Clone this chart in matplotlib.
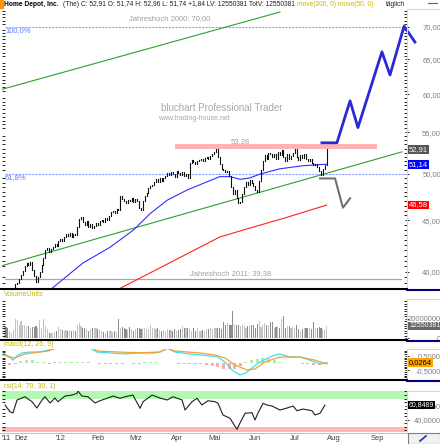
import matplotlib.pyplot as plt
from matplotlib.lines import Line2D
from matplotlib.patches import Rectangle
from matplotlib.ticker import FixedLocator, NullFormatter
import matplotlib.transforms as mtransforms

plt.rcParams['font.family'] = ['Liberation Sans', 'DejaVu Sans']

# Handelstage, Tag 0 = 1. Dez 2011
first_day = -9
closes = [37.6, 37.2, 36.6, 36.9, 37.4, 38.1,
          38.9, 39.0, 39.3, 39.7, 40.1, 40.5, 40.8, 40.6, 40.9, 40.2, 39.6, 39.1,
          39.5, 40.0, 40.6, 41.3, 42.0, 42.2, 41.8, 42.1, 42.3, 42.6, 42.4, 42.9,
          43.1, 42.9, 43.3, 43.6, 43.4, 43.7, 43.3, 43.6, 43.5, 44.3, 45.1, 45.3,
          44.8, 44.5, 44.9, 44.3, 44.6, 44.2, 44.4, 44.7, 44.5, 44.9, 45.0, 44.8,
          45.2, 45.0, 45.4, 45.8, 46.0, 45.7, 46.2, 46.1, 47.6, 47.2, 47.0, 46.8,
          47.1, 47.0, 47.3, 46.9, 47.2, 47.0, 46.3, 46.1, 47.0, 47.6, 47.9, 48.4,
          48.6, 48.8, 49.1, 49.4, 49.1, 49.5, 49.2, 49.6, 49.8, 50.1, 49.9, 50.2,
          50.0, 49.7, 50.3, 50.1, 49.9, 50.2, 49.8, 50.0, 49.5, 51.3, 51.6, 51.4,
          51.2, 51.5, 51.6, 51.8, 51.5, 51.9, 52.0, 51.8, 52.1, 52.3, 52.6, 52.9,
          52.0, 51.2, 50.6, 50.5, 50.2, 50.4, 49.8, 48.5, 47.8, 48.2, 47.3, 46.8,
          46.9, 47.8, 48.5, 49.1, 48.8, 49.3, 49.0, 48.7, 48.2, 48.0, 49.2, 50.5,
          51.5, 52.2, 51.8, 52.5, 52.3, 52.0, 52.4, 51.7, 52.6, 52.2, 52.8, 52.0,
          51.5, 52.3, 51.8, 52.1, 52.5, 52.9, 52.0, 51.6, 52.2, 51.9, 52.4, 51.8,
          51.5, 51.7, 51.3, 51.0, 51.2, 50.8, 50.4, 49.9, 50.6, 51.1, 52.91]
volumes = [11.7, 11.0, 10.7, 7.3, 5.7, 8.0, 20.0, 19.0, 14.0,
           17.3, 14.0, 13.5, 13.0, 12.3, 10.7, 11.7, 11.0, 12.3, 10.7,
           19.0, 10.7, 20.0, 12.3, 9.0, 5.7, 5.0, 5.7, 6.5, 7.3,
           11.7, 9.0, 8.0, 7.3, 8.0, 7.5, 8.0, 7.3, 8.0, 7.5,
           14.0, 15.3, 12.3, 10.7, 10.7, 9.0, 7.3, 9.0, 10.0, 10.0,
           10.0, 9.0, 8.0, 7.3, 6.5, 5.7, 7.3, 7.0, 7.3, 6.5,
           7.3, 6.0, 20.0, 10.7, 11.0, 10.0, 9.0, 8.0, 11.3, 9.0,
           7.3, 9.0, 10.0, 10.7, 9.0, 10.0, 10.0, 9.0, 9.0, 13.3,
           10.0, 10.0, 9.0, 10.7, 8.0, 7.3, 8.0, 7.3, 9.0, 8.0,
           8.0, 7.3, 9.0, 7.3, 8.0, 9.0, 12.3, 10.0, 10.7, 10.0,
           9.5, 7.3, 10.7, 7.3, 10.7, 7.3, 7.3, 8.0, 7.3, 9.0,
           9.0, 10.0, 9.0, 10.0, 10.7, 10.0, 10.7, 9.0, 16.7, 14.0,
           15.7, 13.3, 14.0, 28.0, 15.0, 14.0, 14.0, 12.0, 14.0, 12.3,
           10.7, 12.0, 12.3, 13.3, 14.0, 10.0, 14.7, 18.0, 11.0, 13.3,
           15.7, 13.3, 14.0, 16.7, 16.7, 10.7, 11.0, 12.0, 10.7, 20.0,
           22.7, 10.7, 12.3, 12.0, 10.7, 11.0, 10.0, 13.3, 9.5, 7.3,
           9.0, 10.0, 10.7, 10.0, 10.0, 9.0, 16.3, 10.7, 10.7, 11.0,
           10.0, 9.0, 8.0, 12.55]

ma50_days = [14, 16.5, 33, 47.5, 60, 69, 78, 88.5, 99, 106, 111.5, 117, 122, 127.5, 138, 150, 163]
ma50 = [38.1, 38.5, 40.8, 42.3, 44.0, 45.7, 47.1, 48.2, 49.1, 49.7, 49.7, 49.4, 49.55, 50.0, 50.6, 50.95, 51.14]
ma200_days = [50, 52.8, 106, 124, 142, 163]
ma200 = [38.3, 38.5, 43.3, 44.3, 45.3, 46.58]

trend_lo_days, trend_lo = [-11.2, 203.2], [40.5, 52.6]
trend_hi_days, trend_hi = [-11.2, 138.1], [60.6, 72.4]
jh2000, fib618, jh2011, resist = 70.0, 50.0, 39.38, 53.28

proj_up_days = [160.5, 168.5, 175.5, 179.7, 192.5, 196.8, 204.3, 210.1]
proj_up = [53.7, 53.7, 59.1, 55.6, 66.1, 62.7, 70.1, 67.6]
proj_dn_days = [159.5, 167.5, 171.7, 175.5]
proj_dn = [49.5, 49.5, 46.3, 47.3]

macd_days = [-9.6, -6.9, -4.3, -2.1, 0.5, 4.8, 10.1, 14.4, 20, 30, 36, 40.5, 47.5, 55.5, 63.5,
             71.5, 74, 78, 82.1, 90, 95.5, 100.8, 105, 108.8, 112.5, 116.8, 120, 123.2, 127.5,
             131.7, 135.5, 138.1, 143.5, 148.8, 154.1, 159.5, 163.2]
macd = [0.7, 0.5, 0.2, 0.5, 0.7, 0.77, 0.77, 0.9, 1.15, 1.25, 1.1, 0.77, 0.7, 0.63, 0.7,
        0.7, 0.77, 1.05, 0.77, 0.63, 0.56, 0.5, 0.42, 0.07, -0.49, -0.84, -0.7, -0.35, 0.07,
        0.35, 0.56, 0.63, 0.42, 0.42, 0.2, -0.07, 0.03]
signal_days = [-9.6, -5.9, -3.2, 2.1, 10.1, 14.4, 20, 30, 38, 40.5, 55, 65, 74.1, 78, 82.1,
               95.5, 103.5, 108.8, 114.1, 120.5, 124.8, 130.1, 138.1, 148.8, 156.8, 163.2]
signal = [0.56, 0.42, 0.35, 0.63, 0.77, 0.84, 1.1, 1.2, 1.1, 0.84, 0.75, 0.72, 0.77, 1.02, 0.84,
          0.7, 0.56, 0.35, -0.14, -0.49, -0.42, 0.07, 0.42, 0.42, 0.2, -0.07]
hist_days = list(range(-9, 163, 3))
hist = [-0.1, -0.12, -0.08, 0.15, 0.2, 0.18, 0.1, 0.05, -0.05, 0.05, 0.06, 0.07, 0.05, 0.04,
        0.06, 0.08, 0.02, -0.04, -0.06, -0.05, -0.04, -0.06, -0.03, -0.05, -0.04, 0.06, 0.08,
        0.05, 0.02, -0.02, -0.03, -0.06, -0.07, -0.05, -0.08, -0.1, -0.12, -0.2, -0.3, -0.4,
        -0.45, -0.4, -0.2, 0.1, 0.2, 0.3, 0.35, 0.28, 0.2, 0.1, 0.03, 0.02, -0.02, -0.06,
        -0.1, -0.15, -0.14, -0.1]

rsi_days = [-8.5, -5.9, -4.3, -2.1, 2.1, 5.9, 8.5, 11.2, 12.8, 15.5, 18.1, 19.7, 23.5, 27.2,
            29.9, 30.4, 32.5, 35.7, 39.5, 42.1, 45.9, 49.1, 52.8, 55.5, 59.7, 63.5, 65.1, 69.9,
            74.1, 77.9, 81.1, 85.9, 87.5, 91.2, 93.9, 96.5, 99.7, 103.5, 105.1, 107.7, 111.5,
            113.1, 115.2, 116.8, 119.5, 123.2, 124.8, 126.4, 129.1, 131.2, 133.9, 138.1, 141.9,
            145.1, 147.2, 150.4, 155.2, 156.8, 159.5, 162.1]
rsi = [60.8, 51.4, 49.6, 67.9, 72.5, 65.5, 56.6, 67.9, 72.5, 63.7, 70.7, 65.5, 73.5, 74.9,
       77.3, 80.6, 73.5, 72.5, 63.7, 66.9, 70.3, 73.5, 70.3, 72.5, 74.9, 56.2, 65.5, 74.9,
       70.7, 67.9, 72.5, 67.9, 53.8, 65.5, 70.3, 60.8, 66.9, 65.5, 63.2, 46.8, 42.1, 35.1,
       26.6, 35.5, 49.2, 50.0, 39.7, 49.6, 63.2, 60.8, 59.4, 53.8, 56.6, 59.4, 52.8, 55.2,
       52.8, 46.8, 49.2, 60.85]

month_days = [-9, 0, 21, 41, 61, 83, 103, 125, 146, 167, 190]
month_labels = ["'11", 'Dez', "'12", 'Feb', 'Mrz', 'Apr', 'Mai', 'Jun', 'Jul', 'Aug', 'Sep']
price_ticks = [40, 45, 50, 55, 60, 65, 70]

W, H = 440, 444
fig = plt.figure(figsize=(W / 100, H / 100), dpi=100)
OLIVE = '#c8b800'
YEL = '#f2d98c'


def ftext(x, y, s, **kw):
    kw.setdefault('fontsize', 5.5)
    kw.setdefault('va', 'center')
    fig.text(x / W, 1 - y / H, s, **kw)


def fline(x0, x1, y0, y1, **kw):
    fig.add_artist(Line2D([x0 / W, x1 / W], [1 - y0 / H, 1 - y1 / H], transform=fig.transFigure, **kw))


def panel(y0, y1, ylim, minor, major, labels, log=False):
    ax = fig.add_axes([2 / W, 1 - y1 / H, 405 / W, (y1 - y0) / H])
    if log:
        ax.set_yscale('log')
    ax.set_xlim(-10.13, 205.87)
    ax.set_ylim(*ylim)
    for s in ['top', 'left', 'bottom']:
        ax.spines[s].set_visible(False)
    ax.spines['right'].set_color(YEL)
    ax.set_xticks([])
    ax.set_xticks([], minor=True)
    ax.yaxis.set_major_locator(FixedLocator(major))
    ax.set_yticklabels(labels)
    ax.yaxis.set_minor_locator(FixedLocator(minor))
    ax.yaxis.set_minor_formatter(NullFormatter())
    ax.tick_params(axis='y', which='major', left=False, right=True, labelleft=False, labelright=True,
                   direction='inout', length=3, width=0.6, labelsize=5.5, labelcolor='#808080', pad=23)
    ax.tick_params(axis='y', which='minor', left=True, right=True, direction='in', length=2.5, width=0.6)
    for t in ax.get_yticklabels():
        t.set_ha('right')
    return ax


def value_box(ax, y, s, fc, tc='white', size=5.5):
    tr = mtransforms.blended_transform_factory(ax.transAxes, ax.transData)
    ax.text(1.005, y, s, transform=tr, fontsize=size, color=tc, va='center', ha='left', zorder=5,
            bbox=dict(boxstyle='square,pad=0.12', fc=fc, ec='none'), clip_on=False)


days = list(range(first_day, first_day + len(closes)))
opens = [closes[0]] + closes[:-1]

# Kurschart
ax = panel(9, 289, (38.45, 72.9), [p / 2 for p in range(77, 146)], price_ticks,
           ['%d,00' % p for p in price_ticks], log=True)
ax.axhspan(52.95, 53.6, xmin=(82.1 + 10.13) / 216, xmax=(189.9 + 10.13) / 216, color='#ffb4b4', lw=0)
ax.axhline(jh2000, xmin=0.008, color='#8ca0ff', lw=0.8, ls=(0, (2, 1)))
ax.axhline(fib618, xmin=0.008, color='#8ca0ff', lw=0.8, ls=(0, (2, 1)))
ax.axhline(jh2011, xmin=0.008, xmax=0.985, color='#a8a8a8', lw=0.9)
ax.plot(trend_hi_days, trend_hi, color='#2ca02c', lw=0.8)
ax.plot(trend_lo_days, trend_lo, color='#2ca02c', lw=0.8)
ax.plot(ma200_days, ma200, color='#ff2020', lw=0.8)
ax.plot(ma50_days, ma50, color='#3030ff', lw=0.8)
lc = ax.vlines(days, [min(o, c) for o, c in zip(opens, closes)],
               [max(o, c) for o, c in zip(opens, closes)], color='#111111', lw=0.8)
lc.set_capstyle('projecting')
ax.plot(proj_dn_days, proj_dn, color='#707070', lw=1.5)
ax.plot(proj_up_days, proj_up, color='#2a2ad2', lw=2, clip_on=False)
value_box(ax, 52.91, '52,91', '#555555')
value_box(ax, 51.14, '51,14', '#0000ff')
value_box(ax, 46.58, '46,58', '#ff0000')

ftext(170, 18.5, 'Jahreshoch 2000: 70,00', color='#a0a0a0', ha='center')
ftext(5, 31, '100,0%', color='#5a7dff')
ftext(5, 178, '61,8%', color='#5a7dff')
ftext(231, 274, 'Jahreshoch 2011: 39,38', color='#a0a0a0', ha='center')
ftext(240, 141.5, '53,28', color='#a0a0a0', ha='center')
ftext(222, 108, 'bluchart Professional Trader', color='#a8a8a8', ha='center', fontsize=7)
ftext(158, 118, 'www.trading-house.net', color='#a8a8a8', fontsize=5)

# Volumen
axv = panel(299, 339, (-0.7, 39.9), [v * 2.5 for v in range(0, 16)], [0, 20], ['0', '20000000'])
vcol = ['#c4c4c4' if c >= o else '#8c8c8c' for o, c in zip(opens, closes)]
axv.bar(days, volumes, width=0.55, color=vcol, lw=0)
value_box(axv, 12.55, '12550381', '#666666', size=5)

# MACD
axm = panel(349, 379, (-1.12, 0.98), [v / 8 for v in range(-8, 8)], [0.5, -0.5], ['0,5000', '-0,5000'])
axm.bar(hist_days, hist, width=1.6, color=['#a6f0a6' if h > 0 else '#ffaaaa' for h in hist], lw=0)
axm.plot(macd_days, macd, color='#3fe0f0', lw=0.9)
axm.plot(signal_days, signal, color='#f5a030', lw=0.9)
value_box(axm, 0.0264, '0,0264', '#ffa500', tc='black')

# RSI
axr = panel(391, 432, (22.8, 80.6), list(range(25, 81, 5)), [60, 40], ['60,0000', '40,0000'])
axr.axhspan(70, 100, color='#b4f8b4', lw=0)
axr.axhspan(0, 30, color='#ffb8b8', lw=0)
axr.plot(rsi_days, rsi, color='#202020', lw=0.8)
value_box(axr, 60.85, '60,8489', '#000000', size=5)

# Kopfzeilen und Trennlinien
fig.add_artist(Rectangle((0, 1 - 8 / H), 3 / W, 8 / H, transform=fig.transFigure, color='#ff9900'))
ftext(4, 4.5, 'Home Depot, Inc.', color='black', fontsize=4.8, weight='bold')
ftext(63, 4.5, '(The) C: 52,91 O: 51,74 H: 52,96 L: 51,74 +1,84 LV: 12550381 TotV: 12550381',
      color='#202020', fontsize=4.8)
ftext(297, 4.5, 'move(200, 0) move(50, 0)', color=OLIVE, fontsize=4.8)
ftext(386, 4.5, 'täglich', color='#202020', fontsize=4.8)
fline(428, 437, 3, 3, color='#606060', lw=0.8)
ftext(4, 295, 'VolumeUnits', color=OLIVE, fontsize=5)
ftext(4, 345, 'macd(12, 26, 9)', color=OLIVE, fontsize=5)
ftext(4, 386, 'rsi(14, 70, 30, 1)', color=OLIVE, fontsize=5)
for y in [289.5, 340, 380]:
    fline(0, 407, y, y, color='black', lw=1.5)
    fline(407, 440, y + 0.5, y + 0.5, color='#000080', lw=1.5)
for y in [9.5, 299, 349, 391]:
    fline(407, 440, y, y, color=YEL, lw=0.8)
fline(0, 407, 433, 433, color='#c0c0c0', lw=0.8)

# Monatsachse
for d, lab in zip(month_days, month_labels):
    x = 21 + 1.875 * d
    ftext(max(x, 6), 438.5, lab, color='#404040', ha='center')
fig.add_artist(Rectangle((408 / W, 1 - 444 / H), 32 / W, 11 / H, transform=fig.transFigure,
                         fc='#f0f0f0', ec='#808080', lw=0.8))
fline(420, 426, 441, 436, color='#2030c0', lw=1.2)

fig.savefig('out.png', dpi=100)
